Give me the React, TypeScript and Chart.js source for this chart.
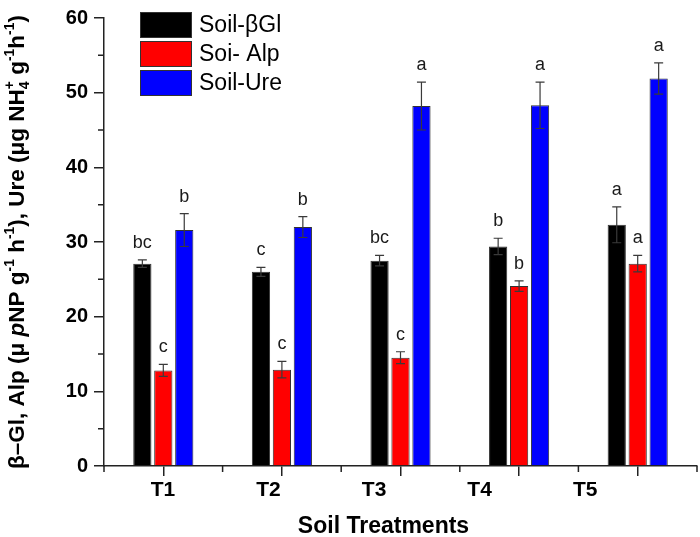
import React, { useEffect, useRef } from 'react';
import { Chart, registerables } from 'chart.js';

Chart.register(...registerables);

const FONT = '"Liberation Sans", Arial, sans-serif';

const categories = ['T1', 'T2', 'T3', 'T4', 'T5'];
const seriesLabels = ['Soil-βGl', 'Soi- Alp', 'Soil-Ure'];
const seriesColors = ['#000000', '#ff0000', '#0000ff'];

const glValues = [27.1, 26.0, 27.5, 29.4, 32.3];
const glErrors = [0.5, 0.6, 0.7, 1.1, 2.4];
const alpValues = [12.8, 12.9, 14.5, 24.1, 27.1];
const alpErrors = [0.8, 1.1, 0.8, 0.7, 1.1];
const ureValues = [31.6, 32.0, 48.2, 48.3, 51.9];
const ureErrors = [2.2, 1.4, 3.2, 3.1, 2.1];

const glLetters = ['bc', 'c', 'bc', 'b', 'a'];
const alpLetters = ['c', 'c', 'c', 'b', 'a'];
const ureLetters = ['b', 'b', 'a', 'a', 'a'];

const yMin = 0;
const yMax = 60;
const yStep = 10;

const xTitle = 'Soil Treatments';

type Part = { t: string; italic?: boolean; sup?: boolean; sub?: boolean; stackSup?: string };
const yTitleParts: Part[] = [
  { t: 'β–Gl, Alp (μ ' },
  { t: 'p', italic: true },
  { t: 'NP g' },
  { t: '-1', sup: true },
  { t: ' h' },
  { t: '-1', sup: true },
  { t: '), Ure (μg NH' },
  { t: '4', sub: true, stackSup: '+' },
  { t: ' g' },
  { t: '-1', sup: true },
  { t: 'h' },
  { t: '-1', sup: true },
  { t: ')' },
];

const errorSets = [glErrors, alpErrors, ureErrors];
const letterSets = [glLetters, alpLetters, ureLetters];

const errorBarPlugin = {
  id: 'errorBars',
  afterDatasetsDraw(chart: any) {
    const { ctx } = chart;
    const y = chart.scales.y;
    ctx.save();
    chart.data.datasets.forEach((ds: any, di: number) => {
      const meta = chart.getDatasetMeta(di);
      meta.data.forEach((bar: any, i: number) => {
        const v = ds.data[i];
        const e = errorSets[di][i];
        const top = y.getPixelForValue(v + e);
        const bot = y.getPixelForValue(v - e);
        const x = bar.x;
        ctx.strokeStyle = '#3a3a3a';
        ctx.lineWidth = 1.2;
        ctx.beginPath();
        ctx.moveTo(x, top);
        ctx.lineTo(x, bot);
        ctx.moveTo(x - 4.5, top);
        ctx.lineTo(x + 4.5, top);
        ctx.moveTo(x - 4.5, bot);
        ctx.lineTo(x + 4.5, bot);
        ctx.stroke();
        ctx.fillStyle = '#1a1a1a';
        ctx.font = `18px ${FONT}`;
        ctx.textAlign = 'center';
        ctx.textBaseline = 'alphabetic';
        ctx.fillText(letterSets[di][i], x, top - 12);
      });
    });
    ctx.restore();
  },
};

function drawRich(ctx: any, size: number, startX: number, base: number, draw: boolean): number {
  let cx = startX;
  for (const p of yTitleParts) {
    if (p.sup || p.sub) {
      ctx.font = `bold ${size * 0.62}px ${FONT}`;
      if (p.sub) {
        if (draw) ctx.fillText(p.t, cx, base + size * 0.22);
        let w = ctx.measureText(p.t).width;
        if (p.stackSup) {
          if (draw) ctx.fillText(p.stackSup, cx, base - size * 0.45);
          w = Math.max(w, ctx.measureText(p.stackSup).width);
        }
        cx += w;
      } else {
        if (draw) ctx.fillText(p.t, cx, base - size * 0.45);
        cx += ctx.measureText(p.t).width;
      }
    } else {
      ctx.font = `${p.italic ? 'italic ' : ''}bold ${size}px ${FONT}`;
      if (draw) ctx.fillText(p.t, cx, base);
      cx += ctx.measureText(p.t).width;
    }
  }
  return cx - startX;
}

const decorPlugin = {
  id: 'decor',
  afterDraw(chart: any) {
    const { ctx, chartArea } = chart;
    const x = chart.scales.x;
    const y = chart.scales.y;
    ctx.save();
    // minor ticks
    ctx.strokeStyle = '#222';
    ctx.lineWidth = 1.5;
    ctx.beginPath();
    for (let v = yMin + yStep / 2; v < yMax; v += yStep) {
      const py = y.getPixelForValue(v);
      ctx.moveTo(chartArea.left - 6, py);
      ctx.lineTo(chartArea.left, py);
    }
    const half = (x.getPixelForValue(1) - x.getPixelForValue(0)) / 2;
    for (let i = 0; i <= categories.length; i++) {
      const px = x.getPixelForValue(i) - half;
      ctx.moveTo(px, chartArea.bottom);
      ctx.lineTo(px, chartArea.bottom + 6);
    }
    ctx.stroke();

    // legend
    const lx = chartArea.left + 36;
    const ly = chartArea.top - 6;
    chart.data.datasets.forEach((ds: any, i: number) => {
      const by = ly + i * 29;
      ctx.fillStyle = ds.backgroundColor;
      ctx.fillRect(lx, by, 52, 26);
      ctx.strokeStyle = '#333';
      ctx.lineWidth = 1;
      ctx.strokeRect(lx + 0.5, by + 0.5, 51, 25);
      ctx.fillStyle = '#000';
      ctx.font = `23px ${FONT}`;
      ctx.textAlign = 'left';
      ctx.textBaseline = 'middle';
      ctx.fillText(ds.label, lx + 59, by + 14);
    });

    // x title
    ctx.fillStyle = '#000';
    ctx.font = `bold 23px ${FONT}`;
    ctx.textAlign = 'center';
    ctx.textBaseline = 'middle';
    ctx.fillText(xTitle, (chartArea.left + chartArea.right) / 2 - 17, chart.height - 10);

    // y title (rich text, rotated, centred on the axis)
    const size = 22.5;
    ctx.textAlign = 'left';
    ctx.textBaseline = 'alphabetic';
    const total = drawRich(ctx, size, 0, 0, false);
    const centerY = (chartArea.top + chartArea.bottom) / 2;
    ctx.translate(chartArea.left - 88, centerY + total / 2);
    ctx.rotate(-Math.PI / 2);
    drawRich(ctx, size, 0, size * 0.36, true);
    ctx.restore();
  },
};

export default function App() {
  const ref = useRef<HTMLCanvasElement | null>(null);

  useEffect(() => {
    if (!ref.current) return;
    const valueSets = [glValues, alpValues, ureValues];
    const chart = new Chart(ref.current, {
      type: 'bar',
      data: {
        labels: categories,
        datasets: valueSets.map((vals, i) => ({
          label: seriesLabels[i],
          data: vals,
          backgroundColor: seriesColors[i],
          borderColor: '#333',
          borderWidth: 1,
          categoryPercentage: 0.53,
          barPercentage: 0.87,
          xAxisID: 'x',
          yAxisID: 'y',
        })),
      },
      options: {
        animation: false,
        responsive: false,
        layout: { padding: { top: 10, right: 3, left: 0, bottom: 0 } },
        plugins: { legend: { display: false }, tooltip: { enabled: false } },
        scales: {
          x: {
            type: 'category',
            position: 'bottom',
            offset: true,
            weight: 0,
            grid: { offset: false, drawOnChartArea: false, drawTicks: true, tickLength: 10, color: '#222', lineWidth: 1.5 },
            border: { display: true, color: '#222', width: 1.5 },
            ticks: { display: false },
            afterFit: (s: any) => { s.height = 10; },
          },
          xl: {
            type: 'linear',
            position: 'bottom',
            weight: 1,
            offset: false,
            min: 0.442,
            max: 6.059,
            grid: { display: false, drawTicks: false, offset: false },
            border: { display: false },
            afterBuildTicks: (s: any) => { s.ticks = categories.map((_, i) => ({ value: i + 1 })); },
            ticks: {
              autoSkip: false,
              maxRotation: 0,
              padding: 2,
              color: '#000',
              font: { family: FONT, size: 21, weight: 'bold' },
              callback: (v: any) => categories[Math.round(v) - 1] ?? '',
            },
            afterFit: (s: any) => { s.height = 61; },
          },
          y: {
            type: 'linear',
            min: yMin,
            max: yMax,
            ticks: { stepSize: yStep, color: '#000', padding: 6, font: { family: FONT, size: 20, weight: 'bold' } },
            grid: { drawOnChartArea: false, drawTicks: true, tickLength: 10, color: '#222', lineWidth: 1.5 },
            border: { display: true, color: '#222', width: 1.5 },
            afterFit: (s: any) => { s.width = 104; },
          },
        },
      } as any,
      plugins: [errorBarPlugin, decorPlugin],
    });
    return () => chart.destroy();
  }, []);

  return (
    <div style={{ position: 'absolute', left: 0, top: 0, width: 700, height: 537, background: '#fff' }}>
      <canvas ref={ref} width={700} height={537} style={{ display: 'block' }} />
    </div>
  );
}
